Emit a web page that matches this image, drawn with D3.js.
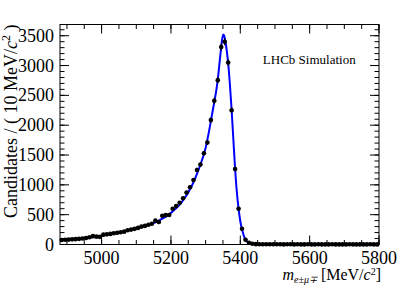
<!DOCTYPE html>
<meta charset="utf-8">
<script src="https://d3js.org/d3.v7.min.js"></script>
<style>
  body { margin: 0; background: #fff; }
  text { font-family: "Liberation Serif", "Times New Roman", serif; fill: #000; }
</style>
<div id="my_dataviz"></div>
<script>

// histogram binning (10 MeV bins from 4880 to 5800)
var binLow = 4880, binWidth = 10;

// candidates per bin
var counts = [
  75, 80, 82, 86, 90, 95, 100, 108, 122, 140,
  132, 128, 165, 170, 178, 188, 198, 205, 215, 240,
  250, 262, 278, 300, 312, 330, 348, 400, 378, 482,
  492, 495, 600, 645, 700, 775, 870, 960, 1080, 1250,
  1340, 1530, 1710, 2085, 2410, 2755, 3310, 3400, 3050, 2250,
  1265, 600, 265, 80, 30, 12, 6, 5, 4, 4,
  3, 3, 4, 3, 2, 3, 3, 2, 3, 2,
  2, 3, 2, 2, 3, 2, 2, 2, 3, 2,
  2, 2, 2, 3, 2, 2, 2, 2, 2, 3,
  2, 2
];

// fitted curve (mass, value)
var fitMass = [4880, 4920, 4960, 5000, 5040, 5080, 5120, 5160, 5200, 5230,
  5260, 5280, 5300, 5320, 5335, 5342, 5348, 5351, 5354, 5358,
  5362, 5366, 5370, 5375, 5380, 5385, 5390, 5395, 5400, 5405,
  5410, 5415, 5420, 5425, 5432, 5440, 5460, 5800];
var fitValue = [78, 88, 112, 148, 190, 238, 300, 385, 530, 700,
  980, 1260, 1620, 2230, 2760, 3150, 3450, 3520, 3490, 3370,
  3200, 2980, 2680, 2250, 1760, 1270, 880, 600, 390, 250,
  150, 85, 45, 25, 12, 6, 3, 2];

var xTicks = [5000, 5200, 5400, 5600, 5800];
var yTicks = [0, 500, 1000, 1500, 2000, 2500, 3000, 3500];

var margin = {top: 24.5, right: 20, bottom: 43.5, left: 60},
    width = 399 - margin.left - margin.right,
    height = 288 - margin.top - margin.bottom;

var svg = d3.select("#my_dataviz")
  .append("svg")
    .attr("width", 399)
    .attr("height", 288)
  .append("g")
    .attr("transform", "translate(" + margin.left + "," + margin.top + ")");

var x = d3.scaleLinear().domain([4880, 5800]).range([0, width]);
var y = d3.scaleLinear().domain([0, 3688]).range([height, 0]);

// ticks on all four sides: major + minor
var xMinor = d3.range(4900, 5801, 50);
var yMinor = d3.range(0, 3688, 100);

function tickSet(cls, data, len, side) {
  svg.selectAll("." + cls)
    .data(data)
    .enter()
    .append("line")
      .attr("class", cls)
      .attr("x1", function(d) { return side == "b" || side == "t" ? x(d) : (side == "l" ? 0 : width); })
      .attr("x2", function(d) { return side == "b" || side == "t" ? x(d) : (side == "l" ? len : width - len); })
      .attr("y1", function(d) { return side == "l" || side == "r" ? y(d) : (side == "b" ? height : 0); })
      .attr("y2", function(d) { return side == "l" || side == "r" ? y(d) : (side == "b" ? height - len : len); })
      .attr("stroke", "#000")
      .attr("stroke-width", 1);
}
tickSet("xminb", xMinor, 4.5, "b");
tickSet("xmint", xMinor, 4.5, "t");
tickSet("xmajb", xTicks, 9, "b");
tickSet("xmajt", xTicks, 9, "t");
tickSet("yminl", yMinor, 4.5, "l");
tickSet("yminr", yMinor, 4.5, "r");
tickSet("ymajl", yTicks, 9, "l");
tickSet("ymajr", yTicks, 9, "r");

// frame
svg.append("rect")
  .attr("x", 0).attr("y", 0)
  .attr("width", width).attr("height", height)
  .attr("fill", "none")
  .attr("stroke", "#000")
  .attr("stroke-width", 1);

// tick labels
svg.selectAll(".xlab")
  .data(xTicks)
  .enter()
  .append("text")
    .attr("x", function(d) { return x(d); })
    .attr("y", height + 19)
    .attr("text-anchor", "middle")
    .style("font-size", "18px")
    .text(function(d) { return d; });

svg.selectAll(".ylab")
  .data(yTicks)
  .enter()
  .append("text")
    .attr("x", -6)
    .attr("y", function(d) { return y(d) + 6; })
    .attr("text-anchor", "end")
    .style("font-size", "18px")
    .text(function(d) { return d; });

// axis titles
var yt = svg.append("text")
  .attr("transform", "translate(" + (-margin.left + 17) + ",0) rotate(-90)")
  .attr("text-anchor", "end")
  .style("font-size", "18px");
yt.append("tspan").text("Candidates / ( 10 MeV/");
yt.append("tspan").style("font-style", "italic").text("c");
yt.append("tspan").attr("dy", -7).style("font-size", "12px").text("2");
yt.append("tspan").attr("dy", 7).text(" )");

var xt = svg.append("text")
  .attr("x", width + 2)
  .attr("y", height + 35.5)
  .attr("text-anchor", "end")
  .style("font-size", "16px");
xt.append("tspan").style("font-style", "italic").text("m");
xt.append("tspan").attr("dy", 3).style("font-style", "italic").style("font-size", "10px").text("e\u00b1\u03bc\u2213");
xt.append("tspan").attr("dy", -3).text(" [MeV/");
xt.append("tspan").style("font-style", "italic").text("c");
xt.append("tspan").attr("dy", -5).style("font-size", "10px").text("2");
xt.append("tspan").attr("dy", 5).text("]");

// label
svg.append("text")
  .attr("x", x(5465))
  .attr("y", 39)
  .style("font-size", "13px")
  .text("LHCb Simulation");

// data points with error bars
var pts = counts.map(function(c, i) { return {m: binLow + binWidth * (i + 0.5), n: c}; });

var g = svg.append("g");
g.selectAll(".hbar")
  .data(pts)
  .enter()
  .append("line")
    .attr("x1", function(d) { return x(d.m - binWidth / 2); })
    .attr("x2", function(d) { return x(d.m + binWidth / 2); })
    .attr("y1", function(d) { return y(d.n); })
    .attr("y2", function(d) { return y(d.n); })
    .attr("stroke", "#000")
    .attr("stroke-width", 1.2);
g.selectAll(".vbar")
  .data(pts)
  .enter()
  .append("line")
    .attr("x1", function(d) { return x(d.m); })
    .attr("x2", function(d) { return x(d.m); })
    .attr("y1", function(d) { return y(Math.max(0, d.n - Math.sqrt(d.n))); })
    .attr("y2", function(d) { return y(d.n + Math.sqrt(d.n)); })
    .attr("stroke", "#000")
    .attr("stroke-width", 1.2);

// fit curve
var fit = fitMass.map(function(m, i) { return {m: m, v: fitValue[i]}; });
svg.append("path")
  .datum(fit)
  .attr("d", d3.line()
    .curve(d3.curveMonotoneX)
    .x(function(d) { return x(d.m); })
    .y(function(d) { return y(d.v); })
  )
  .attr("stroke", "#0000ff")
  .style("stroke-width", 2)
  .style("fill", "none");

g.raise();
g.selectAll(".pt")
  .data(pts)
  .enter()
  .append("circle")
    .attr("cx", function(d) { return x(d.m); })
    .attr("cy", function(d) { return y(d.n); })
    .attr("r", 2.3)
    .attr("fill", "#000");

</script>
